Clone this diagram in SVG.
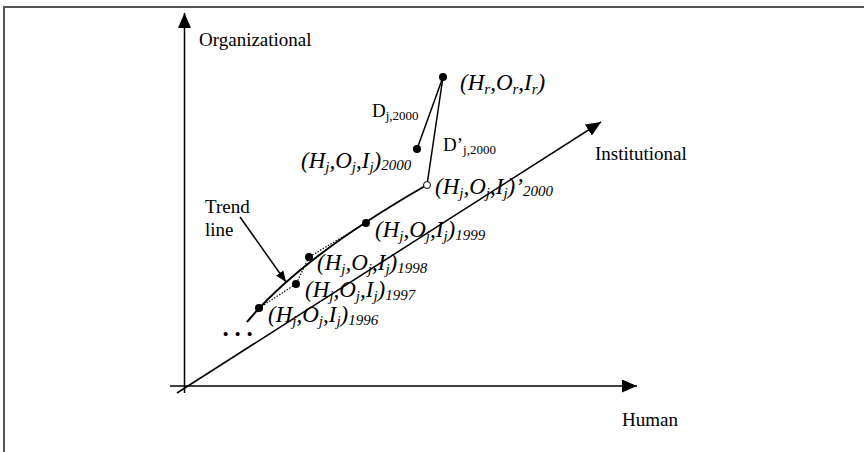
<svg xmlns="http://www.w3.org/2000/svg" width="864" height="452" viewBox="0 0 864 452">
<style>
.ax{stroke:#000;stroke-width:1.5;fill:none}
.lbl{font-family:"Liberation Serif","Times New Roman",serif;font-size:19px;fill:#000}
.pt{font-family:"Liberation Serif","Times New Roman",serif;font-style:italic;font-size:23px;fill:#000}
.s{font-size:15px}
.ds{font-size:13px}
.dot{fill:#000}
.dotted{stroke:#000;stroke-width:1.2;stroke-dasharray:1.5 1.5;fill:none}
.ln{stroke:#000;stroke-width:1.5;fill:none}
</style>
<defs>
<marker id="ah" markerUnits="userSpaceOnUse" markerWidth="16" markerHeight="14" refX="15" refY="6.5" orient="auto">
<path d="M0,0 L15,6.5 L0,13 Z" fill="#000"/>
</marker>
<marker id="ahs" markerUnits="userSpaceOnUse" markerWidth="12" markerHeight="10" refX="11" refY="4.5" orient="auto">
<path d="M0,0 L11,4.5 L0,9 Z" fill="#000"/>
</marker>
</defs>
<rect width="864" height="452" fill="#fff"/>
<g id="frame">
<path d="M4,452 L4,7 L864,7" stroke="#555" stroke-width="2" fill="none"/>
</g>
<g id="axes">
<line class="ax" x1="184.5" y1="393" x2="184.5" y2="13" marker-end="url(#ah)"/>
<line class="ax" x1="170" y1="386" x2="637" y2="386" marker-end="url(#ah)"/>
<line class="ax" x1="177" y1="393" x2="601" y2="122" marker-end="url(#ah)"/>
<text class="lbl" x="199" y="46">Organizational</text>
<text class="lbl" x="595" y="160">Institutional</text>
<text class="lbl" x="622" y="426">Human</text>
</g>
<g id="connectors">
<path d="M247,322 Q300,258 425,186" stroke="#000" stroke-width="2" fill="none"/>
<line class="ln" x1="240" y1="217" x2="286" y2="282" marker-end="url(#ahs)"/>
<polyline class="dotted" points="259,308 296,284 309,257 366,223"/>
<line class="ln" x1="443" y1="77" x2="417" y2="149"/>
<line class="ln" x1="443" y1="77" x2="427" y2="185"/>
</g>
<g id="trend-label">
<text class="lbl" x="205" y="213">Trend</text>
<text class="lbl" x="205" y="236">line</text>
</g>
<g id="ellipsis">
<text class="lbl" style="font-weight:bold;font-size:25px" x="222.5 234.5 246.5" y="336">...</text>
</g>
<g id="p-r">
<circle class="dot" cx="443" cy="77" r="4"/>
<text class="pt" x="460" y="90">(H<tspan class="s" dy="4">r</tspan><tspan dy="-4">,O</tspan><tspan class="s" dy="4">r</tspan><tspan dy="-4">,I</tspan><tspan class="s" dy="4">r</tspan><tspan dy="-4">)</tspan></text>
</g>
<g id="d-label">
<text class="lbl" x="372" y="117">D<tspan class="ds" dy="3">j,2000</tspan></text>
</g>
<g id="dprime-label">
<text class="lbl" x="443" y="151">D’<tspan class="ds" dy="3">j,2000</tspan></text>
</g>
<g id="p-2000">
<circle class="dot" cx="417" cy="149" r="4"/>
<text class="pt" x="301" y="168">(H<tspan class="s" dy="4">j</tspan><tspan dy="-4">,O</tspan><tspan class="s" dy="4">j</tspan><tspan dy="-4">,I</tspan><tspan class="s" dy="4">j</tspan><tspan dy="-4">)</tspan><tspan class="s" dy="2">2000</tspan></text>
</g>
<g id="p-2000-prime">
<circle cx="427" cy="185" r="3.5" fill="#fff" stroke="#000" stroke-width="1"/>
<text class="pt" x="435" y="194">(H<tspan class="s" dy="4">j</tspan><tspan dy="-4">,O</tspan><tspan class="s" dy="4">j</tspan><tspan dy="-4">,I</tspan><tspan class="s" dy="4">j</tspan><tspan dy="-4">)’</tspan><tspan class="s" dy="2">2000</tspan></text>
</g>
<g id="p-1999">
<circle class="dot" cx="366" cy="223" r="4"/>
<text class="pt" x="375" y="237">(H<tspan class="s" dy="4">j</tspan><tspan dy="-4">,O</tspan><tspan class="s" dy="4">j</tspan><tspan dy="-4">,I</tspan><tspan class="s" dy="4">j</tspan><tspan dy="-4">)</tspan><tspan class="s" dy="3">1999</tspan></text>
</g>
<g id="p-1998">
<circle class="dot" cx="309" cy="257" r="4"/>
<text class="pt" x="317" y="270">(H<tspan class="s" dy="4">j</tspan><tspan dy="-4">,O</tspan><tspan class="s" dy="4">j</tspan><tspan dy="-4">,I</tspan><tspan class="s" dy="4">j</tspan><tspan dy="-4">)</tspan><tspan class="s" dy="3">1998</tspan></text>
</g>
<g id="p-1997">
<circle class="dot" cx="296" cy="284" r="4"/>
<text class="pt" x="305" y="297">(H<tspan class="s" dy="4">j</tspan><tspan dy="-4">,O</tspan><tspan class="s" dy="4">j</tspan><tspan dy="-4">,I</tspan><tspan class="s" dy="4">j</tspan><tspan dy="-4">)</tspan><tspan class="s" dy="3">1997</tspan></text>
</g>
<g id="p-1996">
<circle class="dot" cx="259" cy="308" r="4"/>
<text class="pt" x="268" y="322">(H<tspan class="s" dy="4">j</tspan><tspan dy="-4">,O</tspan><tspan class="s" dy="4">j</tspan><tspan dy="-4">,I</tspan><tspan class="s" dy="4">j</tspan><tspan dy="-4">)</tspan><tspan class="s" dy="3">1996</tspan></text>
</g>
</svg>
